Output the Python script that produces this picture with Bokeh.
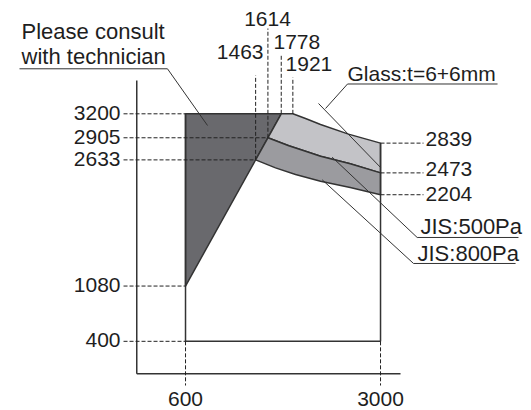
from bokeh.plotting import figure
from bokeh.embed import file_html
from bokeh.resources import INLINE
from bokeh.models import Range1d
from bokeh.core.properties import value

# ---- data ----
x_bottom_marks = [600, 3000]
x_top_marks = [1463, 1614, 1778, 1921]
x_top_marks_ybase = [2633, 2905, 3200, 3200]
y_left_marks = [3200, 2905, 2633, 1080, 400]
y_left_marks_xend = [600, 1614, 1463, 600, 600]
y_right_marks = [2839, 2473, 2204]

box_x = [600, 600, 3000, 3000]
box_y = [3200, 400, 400, 2839]

consult_x = [600, 600, 1778]
consult_y = [1080, 3200, 3200]

top_x = [1921, 2077, 2262, 2606, 3000]
top_y = [3200, 3142, 3068, 2950, 2839]
mid_x = [1614, 1871, 2077, 2262, 2627, 3000]
mid_y = [2905, 2806, 2740, 2678, 2585, 2473]
bot_x = [1463, 1708, 1954, 2262, 2627, 3000]
bot_y = [2633, 2535, 2453, 2370, 2292, 2204]

FONT = value("Liberation Sans")
FS = "21px"
FSW = "22px"
TXT = "#1e1e1e"
EDGE = "#333333"
TY = 105  # text baseline correction (data units)

p = figure(width=531, height=410, x_range=Range1d(-1677, 4858), y_range=Range1d(-451.5, 4594.5),
           output_backend="svg", toolbar_location=None, min_border=0)
p.axis.visible = False
p.grid.visible = False
p.outline_line_color = None
p.background_fill_color = "white"

# axes
p.line([0, 0], [0, 3611], line_color=EDGE, line_width=1.5)
p.line([0, 3246], [0, 0], line_color=EDGE, line_width=1.5)

# regions
light_x = [1778] + top_x + [mid_x[-1]] + mid_x[::-1]
light_y = [3200] + top_y + [mid_y[-1]] + mid_y[::-1]
med_x = mid_x + bot_x[::-1]
med_y = mid_y + bot_y[::-1]
p.patch(consult_x, consult_y, fill_color="#69696d", line_color=EDGE, line_width=1.5)
p.patch(light_x, light_y, fill_color="#c3c3c7", line_color=EDGE, line_width=1.5, line_join="round")
p.patch(med_x, med_y, fill_color="#9b9b9f", line_color=EDGE, line_width=1.5, line_join="round")

# box
p.line(box_x, box_y, line_color=EDGE, line_width=1.5)

DASH = "4 2"
# left dashed guides + labels
for yv, xe in zip(y_left_marks, y_left_marks_xend):
    p.line([-163, xe], [yv, yv], line_color="#222", line_width=1, line_dash=DASH)
p.text(x=[-200] * len(y_left_marks), y=[v - 92 + TY for v in y_left_marks],
       text=[str(v) for v in y_left_marks], text_align="right", text_baseline="alphabetic",
       text_font=FONT, text_font_size=FS, text_color=TXT)

# right dashed guides + labels
for yv in y_right_marks:
    p.line([3000, 3529], [yv, yv], line_color="#222", line_width=1, line_dash=DASH)
right_base = [2785, 2416, 2108]
p.text(x=[3554] * 3, y=[b + TY for b in right_base], text=[str(v) for v in y_right_marks],
       text_align="left", text_baseline="alphabetic",
       text_font=FONT, text_font_size=FS, text_color=TXT)

# bottom dashed guides + labels
for xv in x_bottom_marks:
    p.line([xv, xv], [400, -144], line_color="#222", line_width=1, line_dash=DASH)
p.text(x=x_bottom_marks, y=[-415 + TY, -415 + TY], text=[str(v) for v in x_bottom_marks],
       text_align="center", text_baseline="alphabetic",
       text_font=FONT, text_font_size=FS, text_color=TXT)

# top dashed guides + labels
top_dash_end = [3671, 4250, 3918, 3647]
for xv, yb, ye in zip(x_top_marks, x_top_marks_ybase, top_dash_end):
    p.line([xv, xv], [yb, ye], line_color="#222", line_width=1, line_dash=DASH)
top_lab_x = [1560, 1609, 1683, 1831]
top_lab_y = [3856, 4262, 3979, 3708]
top_lab_align = ["right", "center", "left", "left"]
for xv, lx, ly, al in zip(x_top_marks, top_lab_x, top_lab_y, top_lab_align):
    p.text(x=[lx], y=[ly + TY], text=[str(xv)], text_align=al, text_baseline="alphabetic",
           text_font=FONT, text_font_size=FS, text_color=TXT)

# callouts
p.text(x=[-1418, -1418], y=[4102 + TY, 3795 + TY], text=["Please consult", "with technician"],
       text_align="left", text_baseline="alphabetic",
       text_font=FONT, text_font_size=FSW, text_color=TXT)
p.line([-1443, 378, 871], [3754, 3754, 3056], line_color=EDGE, line_width=1)

p.text(x=[2594], y=[3591 + TY], text=["Glass:t=6+6mm"], text_align="left", text_baseline="alphabetic",
       text_font=FONT, text_font_size=FS, text_color=TXT)
p.line([4440, 2594, 2323], [3567, 3567, 3265], line_color=EDGE, line_width=1)
p.line([2237, 3000], [3327, 2540], line_color=EDGE, line_width=1)

p.text(x=[3492], y=[1702 + TY], text=["JIS:500Pa"], text_align="left", text_baseline="alphabetic",
       text_font=FONT, text_font_size=FSW, text_color=TXT)
p.line([4698, 3451, 2405], [1678, 1678, 2666], line_color=EDGE, line_width=1)

p.text(x=[3455], y=[1370 + TY], text=["JIS:800Pa"], text_align="left", text_baseline="alphabetic",
       text_font=FONT, text_font_size=FSW, text_color=TXT)
p.line([4662, 3406, 2282], [1358, 1358, 2388], line_color=EDGE, line_width=1)

open("out.html", "w").write(file_html(p, INLINE))
